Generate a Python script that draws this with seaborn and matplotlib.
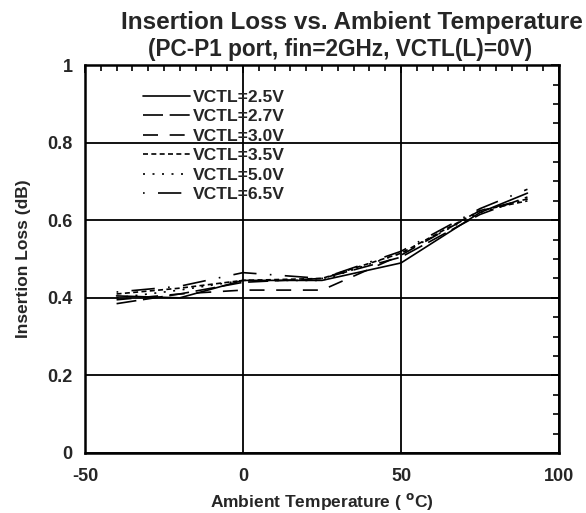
import pandas as pd
import numpy as np
import matplotlib
matplotlib.use('Agg')
import matplotlib.pyplot as plt
import seaborn as sb
from matplotlib.ticker import MultipleLocator

# data
temps = [-40, -20, 0, 25, 50, 75, 90]
series_names = ['VCTL=2.5V', 'VCTL=2.7V', 'VCTL=3.0V', 'VCTL=3.5V', 'VCTL=5.0V', 'VCTL=6.5V']
loss_25 = [0.405, 0.400, 0.445, 0.445, 0.490, 0.620, 0.670]
loss_27 = [0.385, 0.410, 0.440, 0.450, 0.505, 0.615, 0.660]
loss_30 = [0.395, 0.410, 0.420, 0.420, 0.510, 0.625, 0.655]
loss_35 = [0.410, 0.425, 0.445, 0.450, 0.515, 0.625, 0.650]
loss_50 = [0.400, 0.420, 0.445, 0.445, 0.515, 0.620, 0.655]
loss_65 = [0.415, 0.430, 0.465, 0.450, 0.520, 0.630, 0.680]
xtick_vals = [-50, 0, 50, 100]
xtick_labels = ['-50', '0', '50', '100']
ytick_vals = [0, 0.2, 0.4, 0.6, 0.8, 1]
ytick_labels = ['0', '0.2', '0.4', '0.6', '0.8', '1']

all_loss = [loss_25, loss_27, loss_30, loss_35, loss_50, loss_65]
rows = []
for name, vals in zip(series_names, all_loss):
    for t, v in zip(temps, vals):
        rows.append({'Temp': t, 'Loss': v, 'Series': name})
df = pd.DataFrame(rows)

sb.set_style('white')
plt.rcParams['font.family'] = ['Liberation Sans', 'DejaVu Sans']
plt.rcParams['font.weight'] = 'bold'

fig = plt.figure(figsize=(5.86, 5.13), dpi=100)
ax = fig.add_axes([0.145, 0.117, 0.809, 0.756])

dash_map = {
    'VCTL=2.5V': '',
    'VCTL=2.7V': (12, 4),
    'VCTL=3.0V': (9, 7),
    'VCTL=3.5V': (3, 2),
    'VCTL=5.0V': (1.2, 4.5),
    'VCTL=6.5V': (1, 8, 14, 8),
}
sb.lineplot(data=df, x='Temp', y='Loss', hue='Series', style='Series',
            palette=['black'] * 6, dashes=dash_map, linewidth=1.2, ax=ax)

ax.set_xlim(-50, 100)
ax.set_ylim(0, 1)
ax.set_xticks(xtick_vals)
ax.set_xticklabels(xtick_labels)
ax.set_yticks(ytick_vals)
ax.set_yticklabels(ytick_labels)
ax.xaxis.set_minor_locator(MultipleLocator(5))
ax.yaxis.set_minor_locator(MultipleLocator(0.05))
ax.tick_params(which='both', direction='in', top=True, right=True, color='black')
ax.tick_params(which='major', length=6, width=1.2, labelsize=13)
ax.tick_params(axis='x', which='major', pad=11)
ax.tick_params(axis='y', which='major', pad=9)
ax.tick_params(which='minor', length=4.5, width=1.2)
for lab in ax.get_xticklabels() + ax.get_yticklabels():
    lab.set_fontweight('bold')
ax.grid(True, which='major', color='black', linewidth=1.3)
for s in ax.spines.values():
    s.set_color('black')
    s.set_linewidth(1.8)

ax.set_xlabel('Ambient Temperature ( $^{\\mathbf{o}}$C)', fontsize=12.5, fontweight='bold', labelpad=4)
ax.set_ylabel('Insertion Loss (dB)', fontsize=12.5, fontweight='bold', labelpad=12)

leg = ax.legend(loc='upper left', bbox_to_anchor=(0.122, 0.937), frameon=False,
                handlelength=2.7, handletextpad=0.17, labelspacing=0.24,
                prop={'weight': 'bold', 'size': 12.6}, borderpad=0, borderaxespad=0)
for h in leg.get_lines():
    h.set_linewidth(1.2)

fig.text(0.6, 0.957, 'Insertion Loss vs. Ambient Temperature', ha='center', va='center',
         fontsize=17.5, fontweight='bold')
fig.text(0.58, 0.904, '(PC-P1 port, fin=2GHz, VCTL(L)=0V)', ha='center', va='center',
         fontsize=16.3, fontweight='bold')

fig.savefig('out.png', dpi=100)
